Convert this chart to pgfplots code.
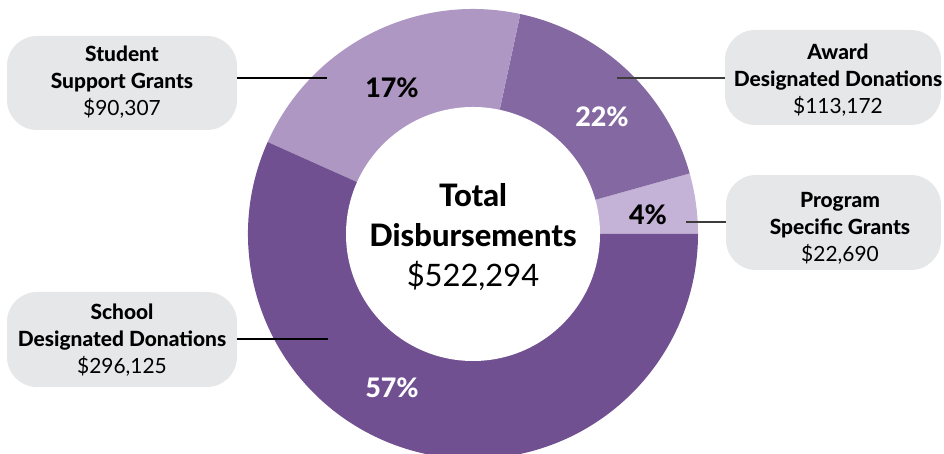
\documentclass[border=0pt]{standalone}
\usepackage{fontspec}
\setmainfont{Lato}[BoldFont={Lato Heavy}]
\usepackage{pgfplots}
\usepackage{pgfplotstable}
\pgfplotsset{compat=1.18}

\definecolor{schoolc}{RGB}{112,80,145}
\definecolor{awardc}{RGB}{132,104,161}
\definecolor{studentc}{RGB}{174,152,195}
\definecolor{progc}{RGB}{196,179,214}
\definecolor{boxc}{RGB}{230,231,232}
\definecolor{linec}{RGB}{60,60,60}

% wedges counter-clockwise from 3 o'clock, share in percent as drawn
\pgfplotstableread{
idx share col
0 4.34 progc
1 17.29 awardc
2 21.67 studentc
3 56.70 schoolc
}\wedges

% start/end angle of each wedge
\def\acc{0}
\pgfplotsforeachungrouped \i in {0,...,3}{%
  \pgfplotstablegetelem{\i}{share}\of\wedges
  \pgfmathsetmacro{\wstart}{\acc*3.6}
  \pgfmathsetmacro{\acc}{\acc+\pgfplotsretval}
  \pgfmathsetmacro{\wstop}{\acc*3.6}
  \expandafter\xdef\csname wa\i\endcsname{\wstart}
  \expandafter\xdef\csname wb\i\endcsname{\wstop}
  \pgfplotstablegetelem{\i}{col}\of\wedges
  \expandafter\xdef\csname wc\i\endcsname{\pgfplotsretval}
}

\def\Ro{225bp}
\def\Ri{127bp}

\begin{document}
\begin{tikzpicture}
\begin{axis}[
  x=1bp, y=1bp,
  xmin=0, xmax=944, ymin=0, ymax=454,
  hide axis, clip=true,
]
% donut
\pgfplotsinvokeforeach{0,...,3}{
  \fill[color=\csname wc#1\endcsname] (axis cs:473,220)
    -- ++(\csname wa#1\endcsname:\Ro)
    arc[start angle=\csname wa#1\endcsname, end angle=\csname wb#1\endcsname, radius=\Ro]
    -- cycle;
}
\fill[white] (axis cs:473,220) circle[radius=\Ri];

% label boxes
\fill[boxc, rounded corners=30bp] (axis cs:7,324) rectangle (axis cs:237,418);
\fill[boxc, rounded corners=30bp] (axis cs:7,67) rectangle (axis cs:237,162);
\fill[boxc, rounded corners=30bp] (axis cs:725,329) rectangle (axis cs:941,424);
\fill[boxc, rounded corners=30bp] (axis cs:726,184) rectangle (axis cs:941,279);

% leader lines
\draw[black, line width=1.1bp] (axis cs:237,376) -- (axis cs:327,376);
\draw[black, line width=1.1bp] (axis cs:237,115) -- (axis cs:328,115);
\draw[linec, line width=1.1bp] (axis cs:617,376) -- (axis cs:725,376);
\draw[linec, line width=1.1bp] (axis cs:686,232) -- (axis cs:726,232);

% box texts
\tikzset{lbl/.style={align=center, inner sep=0pt, font=\fontsize{21}{27}\selectfont}}
\node[lbl] at (axis cs:122,372) {\textbf{Student}\\\textbf{Support Grants}\\\$90,307};
\node[lbl] at (axis cs:122,114) {\textbf{School}\\\textbf{Designated Donations}\\\$296,125};
\node[lbl] at (axis cs:838,374) {\textbf{Award}\\\textbf{Designated Donations}\\\$113,172};
\node[lbl] at (axis cs:840,226) {\textbf{Program}\\\textbf{Specific Grants}\\\$22,690};

% percentages
\tikzset{pct/.style={inner sep=0pt, font=\fontsize{27}{30}\selectfont\bfseries}}
\node[pct, black] at (axis cs:392,366) {17\%};
\node[pct, white] at (axis cs:602,337) {22\%};
\node[pct, black] at (axis cs:648,239) {4\%};
\node[pct, white] at (axis cs:392,66) {57\%};

% centre
\node[align=center, inner sep=0pt, font=\fontsize{31}{40}\selectfont] at (axis cs:473,217)
  {\textbf{Total}\\\textbf{Disbursements}\\\$522,294};
\end{axis}
\pgfresetboundingbox
\path (current axis.south west) rectangle (current axis.north east);
\end{tikzpicture}
\end{document}
